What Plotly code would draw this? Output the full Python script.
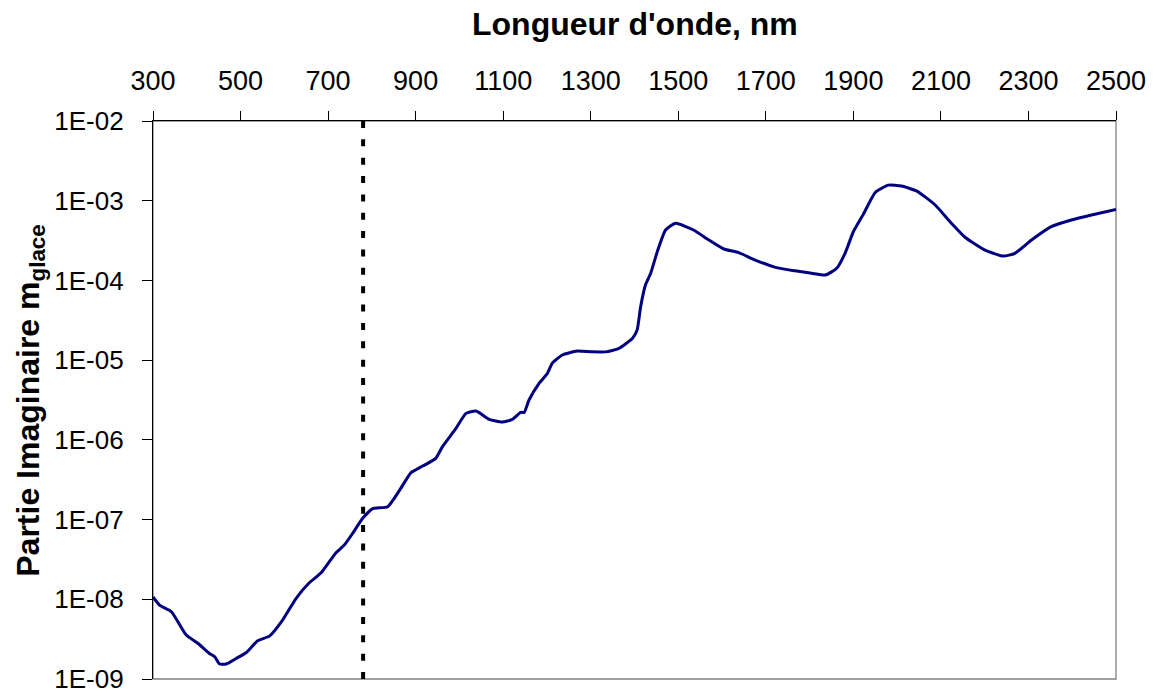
import plotly.graph_objects as go

# Wavelength (nm) and imaginary part of ice refractive index
wavelength = [300, 315, 342, 376, 403, 429, 441, 452, 467, 490, 513, 539, 566, 596, 627,
              657, 684, 718, 737, 756, 779, 802, 836, 866, 889, 916, 946, 961, 992, 1015,
              1038, 1068, 1098, 1121, 1140, 1148, 1159, 1182, 1201, 1212, 1235, 1269, 1303,
              1334, 1364, 1395, 1406, 1414, 1425, 1437, 1452, 1471, 1494, 1535, 1570, 1604,
              1638, 1676, 1722, 1767, 1805, 1836, 1862, 1881, 1900, 1923, 1950, 1980, 2010,
              2045, 2087, 2124, 2155, 2201, 2242, 2269, 2307, 2352, 2398, 2444, 2500]
m_imag = [1.07e-8, 8.45e-9, 6.97e-9, 3.56e-9, 2.79e-9, 2.09e-9, 1.90e-9, 1.54e-9, 1.54e-9,
          1.81e-9, 2.15e-9, 3.01e-9, 3.45e-9, 5.48e-9, 1.03e-8, 1.61e-8, 2.15e-8, 3.84e-8,
          4.79e-8, 6.71e-8, 1.04e-7, 1.37e-7, 1.45e-7, 2.46e-7, 3.86e-7, 4.69e-7, 5.86e-7,
          8.18e-7, 1.39e-6, 2.15e-6, 2.30e-6, 1.81e-6, 1.67e-6, 1.81e-6, 2.21e-6, 2.21e-6,
          3.16e-6, 5.12e-6, 6.82e-6, 9.12e-6, 1.16e-5, 1.30e-5, 1.27e-5, 1.27e-5, 1.40e-5,
          1.87e-5, 2.39e-5, 4.68e-5, 8.75e-5, 1.23e-4, 2.29e-4, 4.29e-4, 5.20e-4, 4.29e-4,
          3.21e-4, 2.48e-4, 2.23e-4, 1.80e-4, 1.46e-4, 1.32e-4, 1.23e-4, 1.17e-4, 1.42e-4,
          2.19e-4, 4.08e-4, 6.79e-4, 1.27e-3, 1.57e-3, 1.53e-3, 1.32e-3, 8.83e-4, 5.20e-4,
          3.48e-4, 2.40e-4, 2.02e-4, 2.19e-4, 3.21e-4, 4.72e-4, 5.73e-4, 6.62e-4, 7.76e-4]

# Vertical reference (visible / near-IR limit)
ref_x = [780, 780]
ref_y = [1e-9, 1e-2]

x_ticks = [300, 500, 700, 900, 1100, 1300, 1500, 1700, 1900, 2100, 2300, 2500]
y_tickvals = [1e-9, 1e-8, 1e-7, 1e-6, 1e-5, 1e-4, 1e-3, 1e-2]
y_ticktext = ["1E-09", "1E-08", "1E-07", "1E-06", "1E-05", "1E-04", "1E-03", "1E-02"]

FONT = "Liberation Sans, Arial, sans-serif"

fig = go.Figure()
fig.add_trace(go.Scatter(x=ref_x, y=ref_y, mode="lines",
                         line=dict(color="black", width=4, dash="7px,11.37px"),
                         showlegend=False, hoverinfo="skip"))
fig.add_trace(go.Scatter(x=wavelength, y=m_imag, mode="lines",
                         line=dict(color="#000080", width=3, shape="spline", smoothing=0.5),
                         showlegend=False))

fig.update_layout(
    width=1159, height=692,
    margin=dict(l=153, r=43, t=121, b=13),
    paper_bgcolor="white", plot_bgcolor="white",
    font=dict(family=FONT, color="black"),
    xaxis=dict(
        side="top", range=[300, 2500], tickvals=x_ticks,
        ticks="outside", ticklen=9, tickwidth=1.3, tickcolor="black",
        showline=True, linecolor="black", linewidth=1.3,
        showgrid=False, zeroline=False, automargin=False,
        tickfont=dict(size=27, family=FONT), ticklabelstandoff=10,
        ticklabeloverflow="allow",
    ),
    yaxis=dict(
        type="log", range=[-9, -2], tickvals=y_tickvals, ticktext=y_ticktext,
        ticks="outside", ticklen=10, tickwidth=1.3, tickcolor="black",
        showline=True, linecolor="black", linewidth=1.3,
        showgrid=False, zeroline=False, automargin=False,
        tickfont=dict(size=26, family=FONT), ticklabelstandoff=13,
        ticklabeloverflow="allow",
    ),
    shapes=[dict(type="rect", xref="paper", yref="paper", x0=0, x1=1, y0=0, y1=1,
                 line=dict(color="#808080", width=1.3), layer="below")],
    annotations=[
        dict(text="<b>Longueur d'onde, nm</b>", xref="paper", yref="paper",
             x=0.5, y=1.173, xanchor="center", yanchor="middle", showarrow=False,
             font=dict(size=32, family=FONT)),
        dict(text="<b>Partie Imaginaire m<sub>glace</sub></b>", xref="paper", yref="paper",
             x=-0.128, y=0.5, xanchor="center", yanchor="middle", showarrow=False,
             textangle=-90, font=dict(size=32, family=FONT)),
    ],
)

fig.write_html("out.html", config={"displayModeBar": False},
               post_script="document.body.style.margin='0px';")
